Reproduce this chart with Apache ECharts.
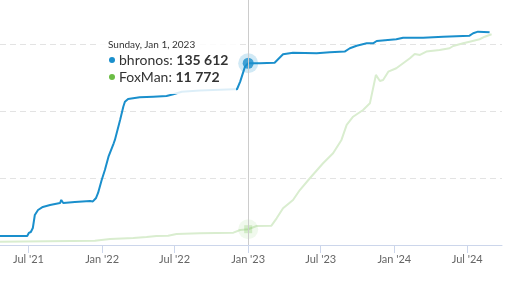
<!DOCTYPE html>
<html lang="en">
<head>
<meta charset="UTF-8">
<script src="https://cdn.jsdelivr.net/npm/echarts@6/dist/echarts.min.js"></script>
<style>
    html, body { margin: 0; padding: 0; background: #fff; }
    #container { width: 507px; height: 281px; }
</style>
</head>
<body>
<div id="container"></div>
<script>
    // data
    var bhronosDates = ['2021-04-21', '2021-06-28', '2021-07-02', '2021-07-07', '2021-07-12', '2021-07-17', '2021-07-25',
        '2021-08-06', '2021-08-24', '2021-09-18', '2021-09-21', '2021-09-26', '2021-10-25', '2021-12-02', '2021-12-09',
        '2021-12-17', '2021-12-22', '2021-12-31', '2022-01-08', '2022-01-17', '2022-01-30', '2022-02-02', '2022-02-15',
        '2022-02-23', '2022-02-27', '2022-03-07', '2022-04-05', '2022-05-09', '2022-06-11', '2022-06-28', '2022-07-19',
        '2022-09-02', '2022-11-25', '2022-12-04', '2022-12-12', '2022-12-24', '2023-01-01', '2023-01-05', '2023-01-30',
        '2023-03-08', '2023-03-29', '2023-04-23', '2023-06-21', '2023-07-24', '2023-08-30', '2023-09-12', '2023-09-29',
        '2023-10-24', '2023-11-09', '2023-11-18', '2024-01-06', '2024-01-23', '2024-03-13', '2024-05-02', '2024-07-07',
        '2024-07-16', '2024-07-28', '2024-08-26'];
    var bhronosValues = [6700, 6700, 9000, 9700, 12700, 22400, 26100,
        28400, 29850, 31300, 33600, 31300, 32100, 32800, 32500,
        35100, 38800, 48500, 56000, 65900, 75900, 78400, 93300,
        103200, 106900, 109000, 110200, 110700, 111200, 112500, 114400,
        115200, 116200, 116200, 121900, 133100, 135612, 135800, 135600,
        136000, 142300, 143500, 143100, 143800, 144300, 146800, 148700,
        150500, 150500, 152200, 153500, 154700, 154700, 155400, 156200,
        158000, 159200, 158700];

    var foxmanDates = ['2021-04-21', '2021-12-14', '2022-01-21', '2022-03-20', '2022-04-22', '2022-05-17', '2022-06-15',
        '2022-06-19', '2022-07-06', '2022-09-02', '2022-11-25', '2022-12-12', '2023-01-01', '2023-01-22', '2023-02-28',
        '2023-03-13', '2023-03-29', '2023-04-23', '2023-05-10', '2023-06-04', '2023-07-07', '2023-08-01', '2023-08-22',
        '2023-09-04', '2023-09-20', '2023-10-15', '2023-11-01', '2023-11-16', '2023-11-26', '2023-12-04', '2023-12-17',
        '2024-01-06', '2024-01-23', '2024-02-09', '2024-02-21', '2024-03-05', '2024-03-21', '2024-04-23', '2024-05-18',
        '2024-05-27', '2024-06-21', '2024-07-07', '2024-08-01', '2024-08-14', '2024-08-31'];
    var foxmanValues = [2500, 3200, 4500, 5200, 6000, 6700, 6900,
        5700, 8200, 8700, 9200, 11200, 11772, 14200, 14400,
        19900, 27400, 33600, 41000, 49800, 61000, 68400, 78400,
        89600, 95700, 100700, 105700, 126900, 122400, 123100, 129300,
        131900, 135600, 139300, 142500, 141800, 144300, 145500, 146800,
        148500, 150500, 151700, 153500, 155400, 157200];

    var tickDates = ['2021-07-01', '2022-01-01', '2022-07-01', '2023-01-01', '2023-07-01', '2024-01-01', '2024-07-01'];
    var tickLabels = ["Jul '21", "Jan '22", "Jul '22", "Jan '23", "Jul '23", "Jan '24", "Jul '24"];

    var hoverDate = '2023-01-01';
    var xStart = '2021-04-21';
    var xEnd = '2024-09-26';

    var blue = '#1a8fcc';
    var green = '#6bbd45';
    var greenFaded = '#d9edcf';

    var parse = echarts.time.parse;
    function t(d) { return +parse(d); }
    var tickTimes = tickDates.map(t);

    function pairs(dates, values) {
        return dates.map(function (d, i) { return [t(d), values[i]]; });
    }

    function fmtNum(n) {
        return String(n).replace(/\B(?=(\d{3})+(?!\d))/g, ' ');
    }

    var bIdx = bhronosDates.indexOf(hoverDate);
    var fIdx = foxmanDates.indexOf(hoverDate);

    function dateTitle(s) {
        var d = parse(s);
        var days = ['Sunday', 'Monday', 'Tuesday', 'Wednesday', 'Thursday', 'Friday', 'Saturday'];
        var months = ['Jan', 'Feb', 'Mar', 'Apr', 'May', 'Jun', 'Jul', 'Aug', 'Sep', 'Oct', 'Nov', 'Dec'];
        return days[d.getDay()] + ', ' + months[d.getMonth()] + ' ' + d.getDate() + ', ' + d.getFullYear();
    }

    function row(color, name, value) {
        return '<div style="font-size:14px;line-height:17px;color:#333">' +
            '<span style="display:inline-block;width:6px;height:6px;border-radius:3px;background:' + color +
            ';margin:0 4px 2px 1px;vertical-align:middle"></span>' +
            name + ': <b>' + fmtNum(value) + '</b></div>';
    }

    var dom = document.getElementById('container');
    var myChart = echarts.init(dom);

    var option = {
        animation: false,
        textStyle: { fontFamily: 'Lato' },
        grid: { left: 0, right: 5, top: 0, bottom: 36, containLabel: false, outerBoundsMode: 'none' },
        tooltip: {
            trigger: 'axis',
            alwaysShowContent: true,
            transitionDuration: 0,
            backgroundColor: 'rgba(255,255,255,0.85)',
            borderWidth: 0,
            padding: [4, 8, 9, 8],
            extraCssText: 'box-shadow:none;border-radius:0;font-family:Lato;',
            axisPointer: {
                type: 'line',
                animation: false,
                lineStyle: { color: '#cccccc', width: 1, type: 'solid' }
            },
            position: function (p) {
                return [p[0] - 148, p[1] - 30];
            },
            formatter: function () {
                return '<div style="font-size:10px;line-height:14px;color:#333">' + dateTitle(hoverDate) + '</div>' +
                    row(blue, 'bhronos', bhronosValues[bIdx]) +
                    row(green, 'FoxMan', foxmanValues[fIdx]);
            }
        },
        xAxis: {
            type: 'value',
            min: t(xStart),
            max: t(xEnd),
            axisLine: { lineStyle: { color: '#ccd6eb', width: 1 } },
            axisTick: { show: true, length: 8, lineStyle: { color: '#ccd6eb' }, customValues: tickTimes },
            axisLabel: {
                customValues: tickTimes,
                color: '#666666',
                fontSize: 11,
                fontFamily: 'Lato',
                margin: 9,
                formatter: function (v) {
                    var i = tickTimes.indexOf(+v);
                    return i >= 0 ? tickLabels[i] : '';
                }
            },
            splitLine: { show: false },
            axisPointer: { label: { show: false } }
        },
        yAxis: {
            type: 'value',
            min: 0,
            max: 182800,
            interval: 50000,
            axisLabel: { show: false },
            axisLine: { show: false },
            axisTick: { show: false },
            splitLine: {
                show: true,
                showMinLine: false,
                showMaxLine: false,
                lineStyle: { color: '#e3e3e3', type: [6, 4], width: 1 }
            }
        },
        series: [
            {
                name: 'FoxMan',
                type: 'line',
                symbol: 'none',
                data: pairs(foxmanDates, foxmanValues),
                lineStyle: { color: greenFaded, width: 2 },
                emphasis: { disabled: true },
                z: 2
            },
            {
                name: 'bhronos',
                type: 'line',
                symbol: 'none',
                data: pairs(bhronosDates, bhronosValues),
                lineStyle: { color: blue, width: 2 },
                emphasis: { disabled: true },
                z: 3
            },
            // hover halos and markers
            {
                type: 'scatter',
                silent: true,
                symbol: 'circle',
                symbolSize: 20,
                itemStyle: { color: 'rgba(107,189,69,0.12)' },
                data: [[t(hoverDate), foxmanValues[fIdx]]],
                emphasis: { disabled: true },
                z: 4
            },
            {
                type: 'scatter',
                silent: true,
                symbol: 'rect',
                symbolSize: 8,
                itemStyle: { color: 'rgba(107,189,69,0.3)' },
                data: [[t(hoverDate), foxmanValues[fIdx]]],
                emphasis: { disabled: true },
                z: 5
            },
            {
                type: 'scatter',
                silent: true,
                symbol: 'circle',
                symbolSize: 20,
                itemStyle: { color: 'rgba(26,143,204,0.25)' },
                data: [[t(hoverDate), bhronosValues[bIdx]]],
                emphasis: { disabled: true },
                z: 6
            },
            {
                type: 'scatter',
                silent: true,
                symbol: 'circle',
                symbolSize: 11,
                itemStyle: { color: blue },
                data: [[t(hoverDate), bhronosValues[bIdx]]],
                emphasis: { disabled: true },
                z: 7
            }
        ]
    };

    myChart.setOption(option);

    var px = myChart.convertToPixel({ gridIndex: 0 }, [t(hoverDate), bhronosValues[bIdx]]);
    myChart.dispatchAction({ type: 'showTip', x: px[0], y: px[1] });
</script>
</body>
</html>
